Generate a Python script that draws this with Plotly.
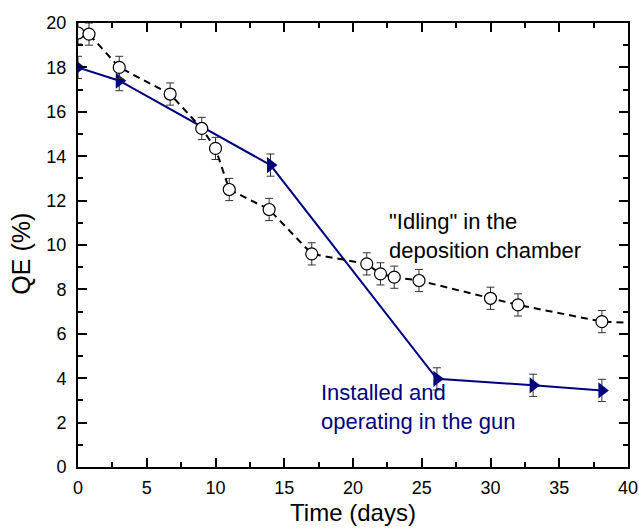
import plotly.graph_objects as go

# Idling in the deposition chamber (open circles, dashed)
idle_t = [0, 0.8, 3, 6.7, 9, 10, 11, 13.9, 17, 21, 22, 23, 24.8, 30, 32, 38.1, 44]
idle_qe = [19.55, 19.5, 18.0, 16.8, 15.25, 14.35, 12.5, 11.6, 9.6, 9.15, 8.7, 8.55, 8.4, 7.6, 7.3, 6.55, 6.4]
idle_err = [0.5] * len(idle_t)

# Installed and operating in the gun (navy triangles, solid)
gun_t = [0, 3, 14, 26.1, 33.1, 38.1]
gun_qe = [18.0, 17.4, 13.6, 3.97, 3.68, 3.45]
gun_err = [0.5, 0.45, 0.5, 0.5, 0.5, 0.5]

NAVY = "#00007f"
FONT = "Arial, Liberation Sans, sans-serif"

fig = go.Figure()
fig.add_trace(go.Scatter(
    x=gun_t, y=gun_qe, mode="lines+markers",
    line=dict(color=NAVY, width=2),
    marker=dict(symbol="triangle-right", size=14, color=NAVY),
    error_y=dict(type="data", array=gun_err, color="#333333", thickness=1, width=4),
    cliponaxis=True, showlegend=False,
))
fig.add_trace(go.Scatter(
    x=idle_t, y=idle_qe, mode="lines+markers",
    line=dict(color="black", width=2, dash="7px,5px"),
    marker=dict(symbol="circle", size=12, color="white", line=dict(color="black", width=1.2)),
    error_y=dict(type="data", array=idle_err, color="#333333", thickness=1, width=4),
    cliponaxis=True, showlegend=False,
))

fig.add_annotation(x=22.5, y=10.4, xref="x", yref="y", xanchor="left", yanchor="middle",
                   text="\"Idling\" in the<br>deposition chamber", showarrow=False, align="left",
                   font=dict(family=FONT, size=22, color="black"))
fig.add_annotation(x=17.55, y=2.7, xref="x", yref="y", xanchor="left", yanchor="middle",
                   text="Installed and<br>operating in the gun", showarrow=False, align="left",
                   font=dict(family=FONT, size=22, color=NAVY))
# y-axis title
fig.add_annotation(x=-0.104, y=0.48, xref="paper", yref="paper", xanchor="center", yanchor="middle",
                   text="QE (%)", textangle=-90, showarrow=False,
                   font=dict(family=FONT, size=25, color="black"))

axis_common = dict(
    showline=True, linecolor="black", linewidth=2, mirror="allticks",
    ticks="inside", ticklen=9, tickwidth=1.5, tickcolor="black",
    showgrid=False, zeroline=False, automargin=False,
    tickfont=dict(family=FONT, size=18, color="black"),
)
fig.update_xaxes(range=[0, 40], dtick=5, tick0=0, ticklabelstandoff=3,
                 minor=dict(dtick=2.5, ticks="inside", ticklen=5, tickwidth=1.5, tickcolor="black"),
                 title=dict(text="Time (days)", font=dict(family=FONT, size=24, color="black"), standoff=8),
                 **axis_common)
fig.update_yaxes(range=[0, 20], dtick=2, tick0=0, ticklabelstandoff=6,
                 minor=dict(dtick=1, ticks="inside", ticklen=5, tickwidth=1.5, tickcolor="black"),
                 **axis_common)

fig.update_layout(
    width=639, height=531,
    margin=dict(l=78, r=11, t=23, b=64),
    paper_bgcolor="white", plot_bgcolor="white",
    font=dict(family=FONT),
)
fig.write_html("out.html")
